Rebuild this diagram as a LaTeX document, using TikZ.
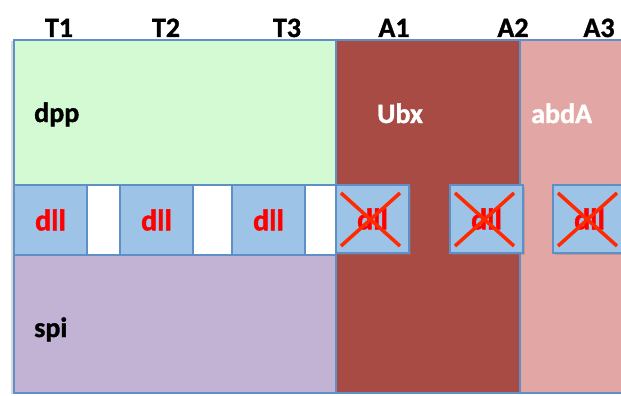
\documentclass[tikz,border=0pt]{standalone}
\usepackage{fontspec}
\setmainfont{Carlito}[BoldFeatures={FakeBold=1.2}]
\usetikzlibrary{shadows,calc}
\definecolor{dppgreen}{HTML}{D3FAD3}
\definecolor{ubxred}{HTML}{A84B45}
\definecolor{abdpink}{HTML}{E2A7A4}
\definecolor{spipurple}{HTML}{C2B3D4}
\definecolor{dllblue}{HTML}{9DC3E6}
\definecolor{bordblue}{HTML}{5E8FC6}
\definecolor{crossred}{HTML}{FF2A00}
\begin{document}
\begin{tikzpicture}[x=1pt,y=-1pt,
  lbl/.style={font=\bfseries\fontsize{28}{32}\selectfont, inner sep=0pt, anchor=base},
  lbll/.style={lbl, anchor=base west},
  region/.style={draw=bordblue, line width=2.5pt, rectangle, inner sep=0pt, outer sep=0pt, anchor=north west},
  dllbox/.style={draw=bordblue, fill=dllblue, line width=2.5pt, rectangle, inner sep=0pt, outer sep=0pt,
     anchor=north west, minimum width=73pt, minimum height=70pt, text=red,
     font=\bfseries\fontsize{30}{32}\selectfont},
  xbox/.style={dllbox, minimum height=68pt, drop shadow={shadow xshift=2pt, shadow yshift=-2pt, opacity=0.35}},
  crossline/.style={draw=crossred, line width=3.5pt}
]
\useasboundingbox (0,0) rectangle (621,396);
\clip (0,0) rectangle (621,396);
% outer frame shadow
\node[region, draw=none, fill=white, minimum width=660pt, minimum height=353pt,
  drop shadow={shadow xshift=-3pt, shadow yshift=-1pt, opacity=0.3}] (frame) at (14,40) {};
% regions
\node[region, fill=dppgreen, minimum width=322pt, minimum height=145pt] (dpp) at (14,40) {};
\node[region, fill=ubxred, minimum width=184pt, minimum height=353pt] (ubx) at (336,40) {};
\node[region, fill=abdpink, minimum width=140pt, minimum height=353pt] (abd) at (520,40) {};
\node[region, fill=spipurple, minimum width=322pt, minimum height=138pt] (spi) at (14,255) {};
% region labels
\node[lbll] (tdpp) at (34,122) {dpp};
\node[lbll, text=white] (tubx) at (377,123) {Ubx};
\node[lbll, text=white] (tabd) at (531,123) {abdA};
\node[lbll] (tspi) at (34,337) {spi};
% segment labels
\node[lbl] (t1) at (59,37) {T1};
\node[lbl] (t2) at (166,37) {T2};
\node[lbl] (t3) at (287,37) {T3};
\node[lbl] (a1) at (394,37) {A1};
\node[lbl] (a2) at (513,37) {A2};
\node[lbl] (a3) at (599,37) {A3};
% thoracic dll boxes
\node[dllbox] (d1) at (14,185) {dll};
\node[dllbox] (d2) at (120,185) {dll};
\node[dllbox] (d3) at (232,185) {dll};
% abdominal repressed dll boxes
\node[xbox] (x1) at (336,185) {dll};
\node[xbox] (x2) at (450,185) {dll};
\node[xbox] (x3) at (553,185) {dll};
\foreach \b in {x1,x2,x3}{
  \draw[crossline] ($(\b.north west)+(5,8)$) -- ($(\b.south east)+(-9,-7)$);
  \draw[crossline] ($(\b.north east)+(-9,8)$) -- ($(\b.south west)+(5,-7)$);
}
\end{tikzpicture}
\end{document}
